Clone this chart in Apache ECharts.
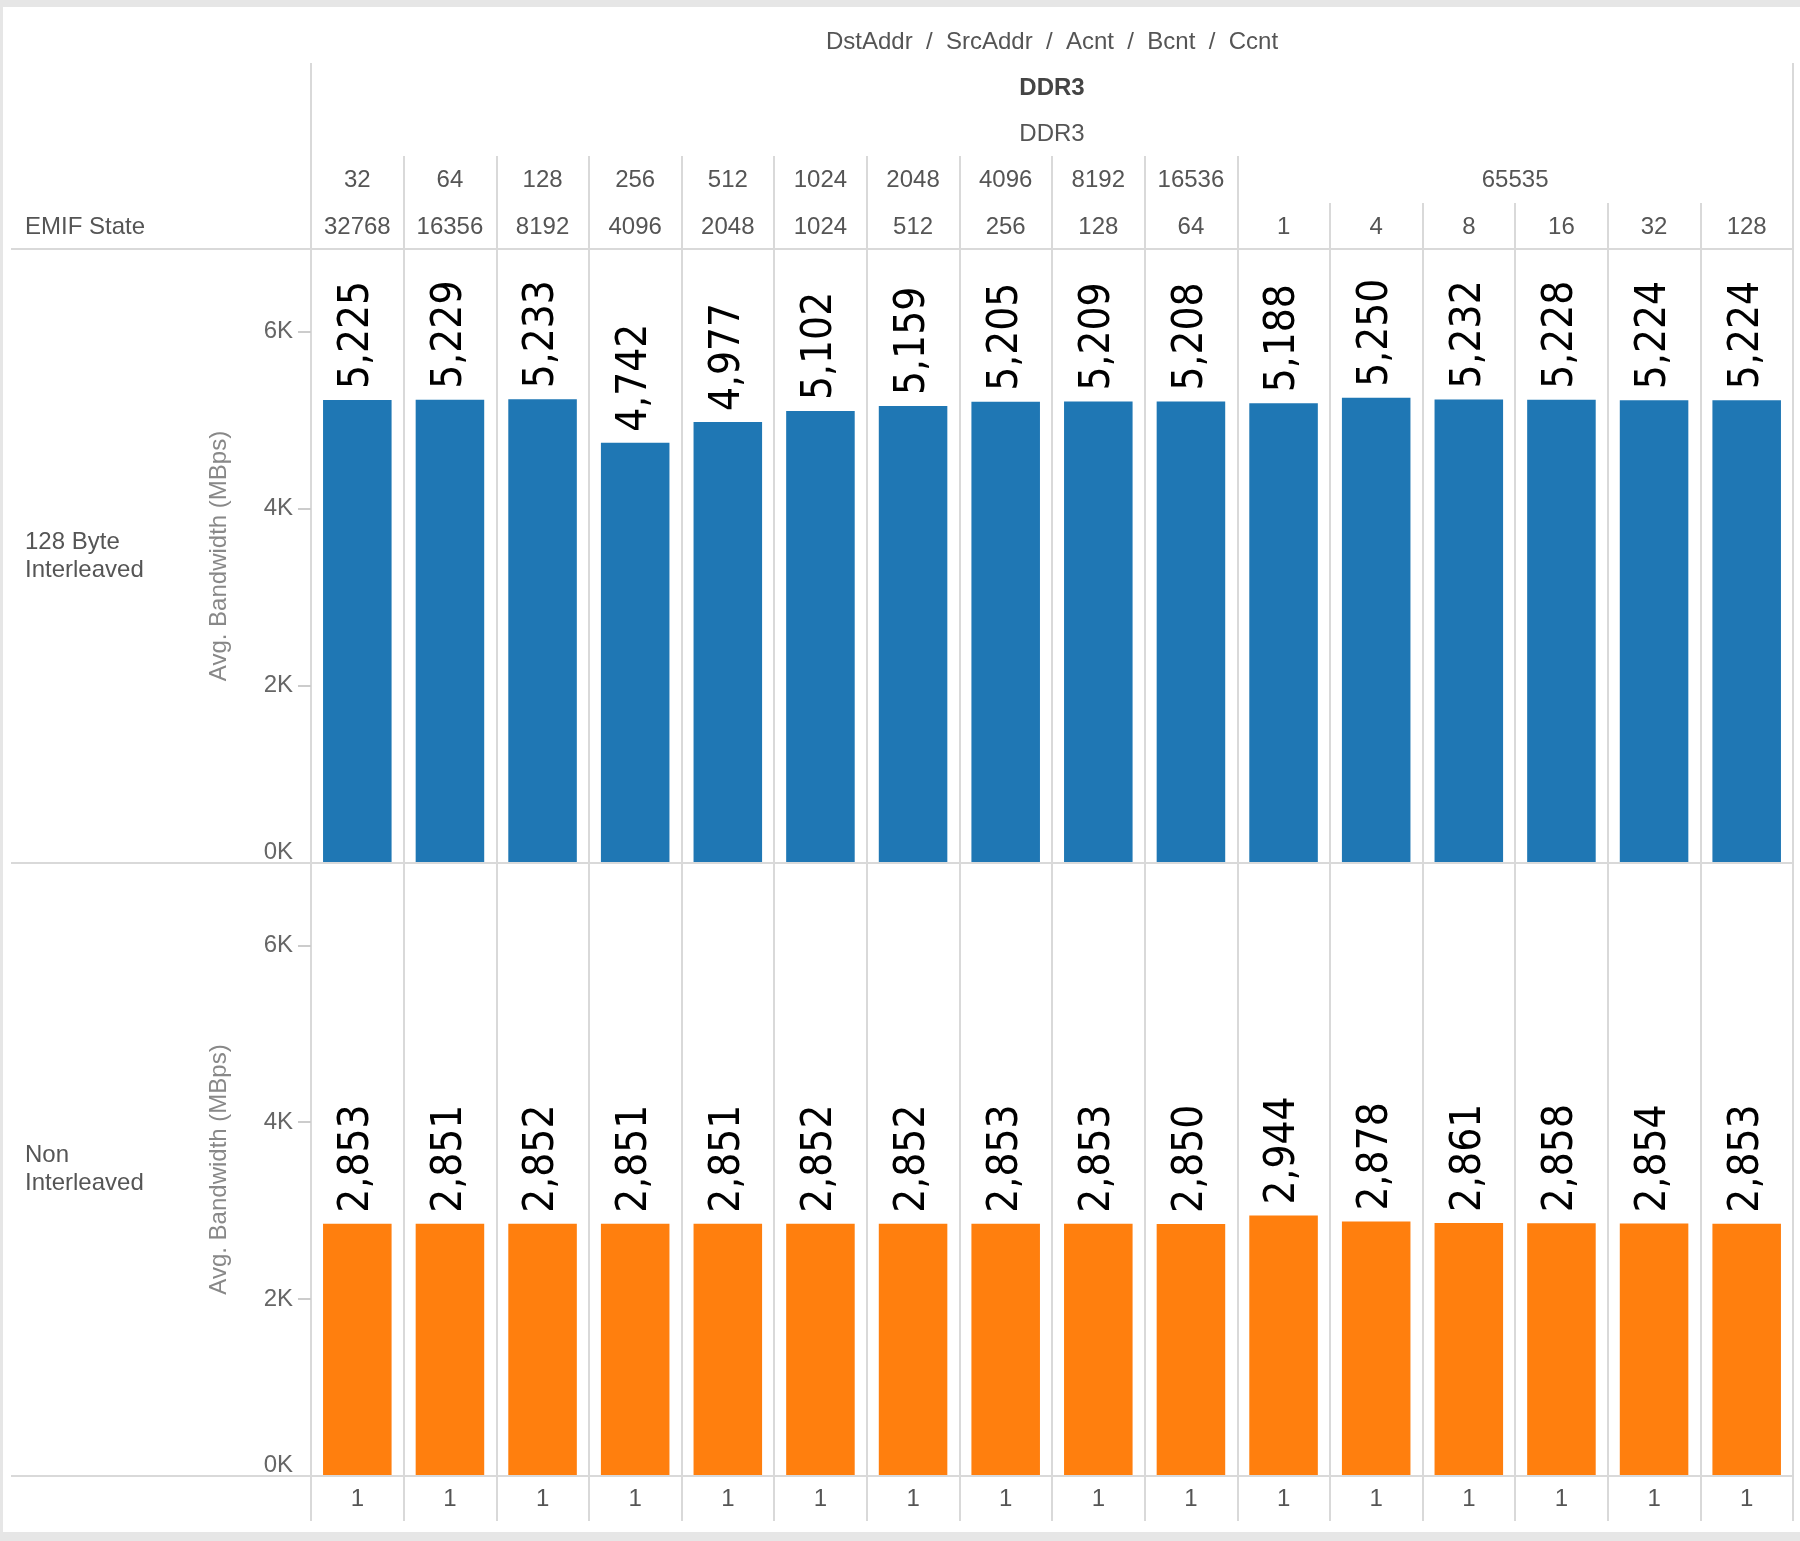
<!DOCTYPE html>
<html><head><meta charset="utf-8">
<script src="https://cdn.jsdelivr.net/npm/echarts@6/dist/echarts.min.js"></script>
<style>html,body{margin:0;padding:0;background:#fff}#c{width:1800px;height:1541px}</style>
</head><body><div id="c"></div>
<script>
// ---- data ----
const headerTitle = 'DstAddr  /  SrcAddr  /  Acnt  /  Bcnt  /  Ccnt';
const dstAddr = 'DDR3';
const srcAddr = 'DDR3';
const acnt = [32, 64, 128, 256, 512, 1024, 2048, 4096, 8192, 16536, 65535, 65535, 65535, 65535, 65535, 65535];
const bcnt = [32768, 16356, 8192, 4096, 2048, 1024, 512, 256, 128, 64, 1, 4, 8, 16, 32, 128];
const ccnt = [1, 1, 1, 1, 1, 1, 1, 1, 1, 1, 1, 1, 1, 1, 1, 1];
const interleaved = [5225, 5229, 5233, 4742, 4977, 5102, 5159, 5205, 5209, 5208, 5188, 5250, 5232, 5228, 5224, 5224];
const nonInterleaved = [2853, 2851, 2852, 2851, 2851, 2852, 2852, 2853, 2853, 2850, 2944, 2878, 2861, 2858, 2854, 2853];
const yTicks = [0, 2000, 4000, 6000];
const rowLabels = ['128 Byte\nInterleaved', 'Non\nInterleaved'];
const cornerLabel = 'EMIF State';
const axisTitle = 'Avg. Bandwidth (MBps)';

// ---- layout ----
const W = 1800, H = 1541;
const GL = 311, GR = 1793, TAB_L = 11;
const HEAD_B = 249, MID = 863, BOT = 1476;
const ROW2_T = 203, ROW1_T = 156, FRAME_T = 63, BOT_T = 1521;
const YMAX = 6930;
const N = acnt.length;
const CW = (GR - GL) / N;
const FONT = "'Liberation Sans', Arial, sans-serif";
const NARROW = "'Liberation Sans Narrow', 'Arial Narrow', 'DejaVu Sans Condensed', sans-serif";
const LINE = '#d9d9d9';
const TXT = '#555';

const cats = acnt.map((a, i) => a + '/' + bcnt[i] + '/' + i);

// merged cells for acnt row: label on run centre
const acntLabel = {};
const acntTickStart = {};
(function () {
  let s = 0;
  for (let i = 1; i <= N; i++) {
    if (i === N || acnt[i] !== acnt[s]) {
      const L = i - s;
      acntTickStart[s] = true;
      if (L % 2 === 1) acntLabel[s + (L - 1) / 2] = '{c|' + acnt[s] + '}';
      else acntLabel[s + L / 2] = '{s|' + acnt[s] + '}';
      s = i;
    }
  }
})();

const txtStyle = { fontFamily: FONT, fontSize: 24, color: TXT };

function yAxis(gi) {
  return {
    type: 'value', gridIndex: gi, min: 0, max: YMAX,
    axisLine: { show: false },
    splitLine: { show: false },
    axisTick: { show: true, length: 13, lineStyle: { color: '#cccccc', width: 2 }, customValues: yTicks },
    axisLabel: {
      customValues: yTicks, margin: 18, fontFamily: FONT, fontSize: 24, color: '#666',
      formatter: v => v === 0 ? '{z|0K}' : (v / 1000) + 'K',
      rich: { z: { fontFamily: FONT, fontSize: 24, color: '#666', padding: [0, 0, 22, 0] } }
    },
    name: axisTitle, nameLocation: 'middle', nameGap: 80, nameRotate: 90,
    nameTextStyle: { fontFamily: FONT, fontSize: 24, color: '#888' }
  };
}

const barLabel = {
  show: true, position: 'top', rotate: 90, align: 'left', verticalAlign: 'middle', distance: 11,
  fontFamily: NARROW, fontSize: 42, color: '#000',
  formatter: p => p.value.toLocaleString('en-US')
};

const option = {
  backgroundColor: '#fff',
  animation: false,
  grid: [
    { left: GL, top: HEAD_B, width: GR - GL, height: MID - HEAD_B },
    { left: GL, top: MID, width: GR - GL, height: BOT - MID }
  ],
  xAxis: [
    { type: 'category', gridIndex: 0, data: cats, position: 'bottom',
      axisLine: { show: false }, axisTick: { show: false }, axisLabel: { show: false },
      splitLine: { show: true, interval: 0, lineStyle: { color: LINE, width: 2 } } },
    { type: 'category', gridIndex: 0, data: cats, position: 'top', offset: 0,
      axisLine: { show: false },
      axisTick: { show: true, interval: 0, length: HEAD_B - ROW2_T, lineStyle: { color: LINE, width: 2 } },
      axisLabel: { interval: 0, margin: HEAD_B - 227, verticalAlign: 'middle', ...txtStyle,
        formatter: (v, i) => String(bcnt[i]) } },
    { type: 'category', gridIndex: 0, data: cats, position: 'top', offset: HEAD_B - ROW2_T,
      axisLine: { show: false },
      axisTick: { show: true, interval: (i) => !!acntTickStart[i], length: ROW2_T - ROW1_T, lineStyle: { color: LINE, width: 2 } },
      axisLabel: { interval: 0, margin: ROW2_T - 180, verticalAlign: 'middle', ...txtStyle,
        formatter: (v, i) => acntLabel[i] || '',
        rich: {
          c: { ...txtStyle },
          s: { ...txtStyle, padding: [0, CW, 0, 0] }
        } } },
    { type: 'category', gridIndex: 1, data: cats, position: 'bottom',
      axisLine: { show: false },
      axisTick: { show: true, interval: 0, length: BOT_T - BOT, lineStyle: { color: LINE, width: 2 } },
      axisLabel: { interval: 0, margin: 1499 - BOT, verticalAlign: 'middle', ...txtStyle,
        formatter: (v, i) => String(ccnt[i]) },
      splitLine: { show: true, interval: 0, lineStyle: { color: LINE, width: 2 } } }
  ],
  yAxis: [yAxis(0), yAxis(1)],
  series: [
    { type: 'bar', name: rowLabels[0], xAxisIndex: 0, yAxisIndex: 0, data: interleaved,
      barCategoryGap: '26%', itemStyle: { color: '#1f77b4' }, label: barLabel },
    { type: 'bar', name: rowLabels[1], xAxisIndex: 3, yAxisIndex: 1, data: nonInterleaved,
      barCategoryGap: '26%', itemStyle: { color: '#ff7f0e' }, label: barLabel }
  ],
  graphic: [
    { type: 'rect', shape: { x: 0, y: 0, width: W, height: 7 }, style: { fill: '#e6e6e6' }, silent: true },
    { type: 'rect', shape: { x: 0, y: 1532, width: W, height: H - 1532 }, style: { fill: '#e6e6e6' }, silent: true },
    { type: 'rect', shape: { x: 0, y: 0, width: 3, height: H }, style: { fill: '#e6e6e6' }, silent: true },
    { type: 'line', shape: { x1: TAB_L, y1: HEAD_B, x2: GR, y2: HEAD_B }, style: { stroke: LINE, lineWidth: 2 }, z: 10 },
    { type: 'line', shape: { x1: TAB_L, y1: MID, x2: GR, y2: MID }, style: { stroke: LINE, lineWidth: 2 }, z: 10 },
    { type: 'line', shape: { x1: TAB_L, y1: BOT, x2: GR, y2: BOT }, style: { stroke: LINE, lineWidth: 2 }, z: 10 },
    { type: 'line', shape: { x1: GL, y1: FRAME_T, x2: GL, y2: ROW1_T }, style: { stroke: LINE, lineWidth: 2 } },
    { type: 'line', shape: { x1: GR, y1: FRAME_T, x2: GR, y2: ROW1_T }, style: { stroke: LINE, lineWidth: 2 } },
    { type: 'text', x: (GL + GR) / 2, y: 42, style: { text: headerTitle, ...txtStyle, fill: TXT, align: 'center', verticalAlign: 'middle' } },
    { type: 'text', x: (GL + GR) / 2, y: 88, style: { text: dstAddr, fontFamily: FONT, fontSize: 24, fontWeight: 'bold', fill: '#444', align: 'center', verticalAlign: 'middle' } },
    { type: 'text', x: (GL + GR) / 2, y: 134, style: { text: srcAddr, ...txtStyle, fill: TXT, align: 'center', verticalAlign: 'middle' } },
    { type: 'text', x: 25, y: 227, style: { text: cornerLabel, ...txtStyle, fill: TXT, align: 'left', verticalAlign: 'middle' } },
    { type: 'text', x: 25, y: (HEAD_B + MID) / 2, style: { text: rowLabels[0], ...txtStyle, fill: TXT, lineHeight: 28, align: 'left', verticalAlign: 'middle' } },
    { type: 'text', x: 25, y: (MID + BOT) / 2, style: { text: rowLabels[1], ...txtStyle, fill: TXT, lineHeight: 28, align: 'left', verticalAlign: 'middle' } }
  ]
};
const chart = echarts.init(document.getElementById('c'), null, { renderer: 'canvas', width: W, height: H });
chart.setOption(option);
</script></body></html>
